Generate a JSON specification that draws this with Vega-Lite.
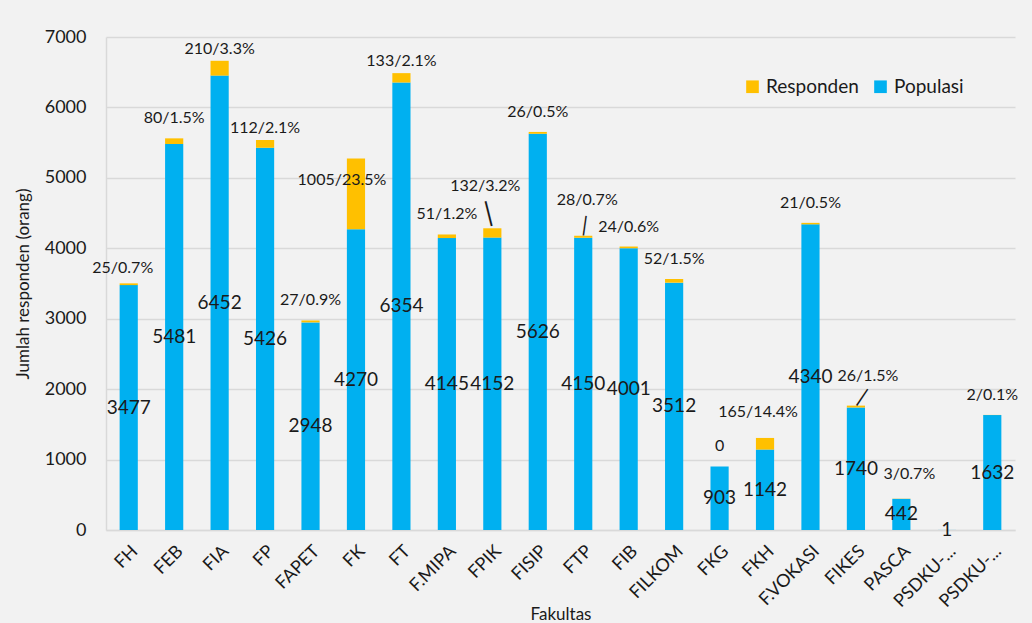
{
  "$schema": "https://vega.github.io/schema/vega-lite/v6.json",
  "autosize": {"type": "none"},
  "width": 909,
  "height": 493,
  "padding": {"left": 106, "top": 37, "right": 17, "bottom": 93},
  "background": "#F2F2F2",
  "config": {
    "font": "Lato",
    "view": {"stroke": null},
    "axis": {"labelColor": "#1a1a1a", "titleColor": "#1a1a1a", "titleFontWeight": "normal", "domainColor": "#D9D9D9", "domainWidth": 1.5, "ticks": false},
    "legend": {"labelColor": "#1a1a1a"},
    "text": {"color": "#1a1a1a"}
  },
  "data": {
    "values": [
      {"Fakultas": "FH", "Populasi": 3477, "Responden": 25, "label": "25/0.7%"},
      {"Fakultas": "FEB", "Populasi": 5481, "Responden": 80, "label": "80/1.5%"},
      {"Fakultas": "FIA", "Populasi": 6452, "Responden": 210, "label": "210/3.3%"},
      {"Fakultas": "FP", "Populasi": 5426, "Responden": 112, "label": "112/2.1%"},
      {"Fakultas": "FAPET", "Populasi": 2948, "Responden": 27, "label": "27/0.9%"},
      {"Fakultas": "FK", "Populasi": 4270, "Responden": 1005, "label": "1005/23.5%"},
      {"Fakultas": "FT", "Populasi": 6354, "Responden": 133, "label": "133/2.1%"},
      {"Fakultas": "F.MIPA", "Populasi": 4145, "Responden": 51, "label": "51/1.2%"},
      {"Fakultas": "FPIK", "Populasi": 4152, "Responden": 132, "label": "132/3.2%"},
      {"Fakultas": "FISIP", "Populasi": 5626, "Responden": 26, "label": "26/0.5%"},
      {"Fakultas": "FTP", "Populasi": 4150, "Responden": 28, "label": "28/0.7%"},
      {"Fakultas": "FIB", "Populasi": 4001, "Responden": 24, "label": "24/0.6%"},
      {"Fakultas": "FILKOM", "Populasi": 3512, "Responden": 52, "label": "52/1.5%"},
      {"Fakultas": "FKG", "Populasi": 903, "Responden": 0, "label": "0"},
      {"Fakultas": "FKH", "Populasi": 1142, "Responden": 165, "label": "165/14.4%"},
      {"Fakultas": "F.VOKASI", "Populasi": 4340, "Responden": 21, "label": "21/0.5%"},
      {"Fakultas": "FIKES", "Populasi": 1740, "Responden": 26, "label": "26/1.5%"},
      {"Fakultas": "PASCA", "Populasi": 442, "Responden": 3, "label": "3/0.7%"},
      {"Fakultas": "PSDKU-1", "Populasi": 1, "Responden": 0, "label": ""},
      {"Fakultas": "PSDKU-2", "Populasi": 1632, "Responden": 2, "label": "2/0.1%"}
    ]
  },
  "encoding": {
    "x": {
      "field": "Fakultas",
      "type": "nominal",
      "sort": null,
      "scale": {"paddingInner": 0.6, "paddingOuter": 0.3},
      "axis": {
        "title": "Fakultas",
        "titleFontSize": 17,
        "titleY": 84,
        "titleBaseline": "middle",
        "labelAngle": -45,
        "labelFontSize": 18,
        "labelPadding": 12,
        "labelExpr": "indexof(datum.label, 'PSDKU') == 0 ? 'PSDKU-...' : datum.label"
      }
    }
  },
  "layer": [
    {
      "transform": [{"fold": ["Populasi", "Responden"], "as": ["Jenis", "Jumlah"]}],
      "mark": {"type": "bar"},
      "encoding": {
        "y": {
          "field": "Jumlah",
          "type": "quantitative",
          "stack": "zero",
          "scale": {"domain": [0, 7000]},
          "axis": {
            "title": "Jumlah responden (orang)",
            "titleFontSize": 17,
            "titlePadding": 12,
            "values": [0, 1000, 2000, 3000, 4000, 5000, 6000, 7000],
            "format": "d",
            "labelFontSize": 18,
            "labelPadding": 20,
            "grid": true,
            "gridColor": "#D9D9D9",
            "gridWidth": 1.5
          }
        },
        "color": {
          "field": "Jenis",
          "type": "nominal",
          "scale": {"domain": ["Responden", "Populasi"], "range": ["#FFC000", "#00B0F0"]},
          "legend": {
            "title": null,
            "orient": "none",
            "legendX": 637,
            "legendY": 40,
            "direction": "horizontal",
            "symbolType": "square",
            "symbolSize": 160,
            "symbolStrokeWidth": 0,
            "labelFontSize": 19,
            "columnPadding": 12
          }
        },
        "order": {"field": "Jenis", "sort": "ascending"}
      }
    },
    {
      "transform": [
        {"fold": ["Populasi", "Responden"], "as": ["Jenis", "Jumlah"]},
        {"stack": "Jumlah", "groupby": ["Fakultas"], "sort": [{"field": "Jenis", "order": "ascending"}], "as": ["y0", "y1"]},
        {"filter": "datum.Jenis == 'Responden' && indexof(['FEB','FAPET','F.MIPA','FISIP','FIB','FILKOM','FKG','F.VOKASI','PSDKU-2'], datum.Fakultas) >= 0"}
      ],
      "mark": {"type": "text", "baseline": "middle", "dy": -20, "fontSize": 16},
      "encoding": {
        "y": {"field": "y1", "type": "quantitative", "scale": {"domain": [0, 7000]}, "axis": null},
        "text": {"field": "label"}
      }
    },
    {
      "transform": [
        {"fold": ["Populasi", "Responden"], "as": ["Jenis", "Jumlah"]},
        {"stack": "Jumlah", "groupby": ["Fakultas"], "sort": [{"field": "Jenis", "order": "ascending"}], "as": ["y0", "y1"]},
        {"filter": "datum.Jenis == 'Responden' && indexof(['FIA','FP','FT'], datum.Fakultas) >= 0"}
      ],
      "mark": {"type": "text", "baseline": "middle", "dy": -12, "fontSize": 16},
      "encoding": {
        "y": {"field": "y1", "type": "quantitative", "scale": {"domain": [0, 7000]}, "axis": null},
        "text": {"field": "label"}
      }
    },
    {
      "transform": [
        {"fold": ["Populasi", "Responden"], "as": ["Jenis", "Jumlah"]},
        {"stack": "Jumlah", "groupby": ["Fakultas"], "sort": [{"field": "Jenis", "order": "ascending"}], "as": ["y0", "y1"]},
        {"filter": "datum.Jenis == 'Responden' && datum.Fakultas == 'FH'"}
      ],
      "mark": {"type": "text", "baseline": "middle", "dy": -15, "dx": -6, "fontSize": 16},
      "encoding": {
        "y": {"field": "y1", "type": "quantitative", "scale": {"domain": [0, 7000]}, "axis": null},
        "text": {"field": "label"}
      }
    },
    {
      "transform": [
        {"fold": ["Populasi", "Responden"], "as": ["Jenis", "Jumlah"]},
        {"stack": "Jumlah", "groupby": ["Fakultas"], "sort": [{"field": "Jenis", "order": "ascending"}], "as": ["y0", "y1"]},
        {"filter": "datum.Jenis == 'Responden' && datum.Fakultas == 'FKH'"}
      ],
      "mark": {"type": "text", "baseline": "middle", "dy": -26, "dx": -7, "fontSize": 16},
      "encoding": {
        "y": {"field": "y1", "type": "quantitative", "scale": {"domain": [0, 7000]}, "axis": null},
        "text": {"field": "label"}
      }
    },
    {
      "transform": [
        {"fold": ["Populasi", "Responden"], "as": ["Jenis", "Jumlah"]},
        {"stack": "Jumlah", "groupby": ["Fakultas"], "sort": [{"field": "Jenis", "order": "ascending"}], "as": ["y0", "y1"]},
        {"filter": "datum.Jenis == 'Responden' && datum.Fakultas == 'PASCA'"}
      ],
      "mark": {"type": "text", "baseline": "middle", "dy": -25, "dx": 8, "fontSize": 16},
      "encoding": {
        "y": {"field": "y1", "type": "quantitative", "scale": {"domain": [0, 7000]}, "axis": null},
        "text": {"field": "label"}
      }
    },
    {
      "transform": [
        {"fold": ["Populasi", "Responden"], "as": ["Jenis", "Jumlah"]},
        {"stack": "Jumlah", "groupby": ["Fakultas"], "sort": [{"field": "Jenis", "order": "ascending"}], "as": ["y0", "y1"]},
        {"filter": "datum.Jenis == 'Responden' && datum.Fakultas == 'FK'"}
      ],
      "mark": {"type": "text", "baseline": "middle", "dy": 22, "dx": -14, "fontSize": 16},
      "encoding": {
        "y": {"field": "y1", "type": "quantitative", "scale": {"domain": [0, 7000]}, "axis": null},
        "text": {"field": "label"}
      }
    },
    {
      "transform": [
        {"fold": ["Populasi", "Responden"], "as": ["Jenis", "Jumlah"]},
        {"stack": "Jumlah", "groupby": ["Fakultas"], "sort": [{"field": "Jenis", "order": "ascending"}], "as": ["y0", "y1"]},
        {"filter": "datum.Jenis == 'Responden' && datum.Fakultas == 'FPIK'"}
      ],
      "mark": {"type": "text", "baseline": "middle", "dy": -42, "dx": -7, "fontSize": 16},
      "encoding": {
        "y": {"field": "y1", "type": "quantitative", "scale": {"domain": [0, 7000]}, "axis": null},
        "text": {"field": "label"}
      }
    },
    {
      "transform": [
        {"fold": ["Populasi", "Responden"], "as": ["Jenis", "Jumlah"]},
        {"stack": "Jumlah", "groupby": ["Fakultas"], "sort": [{"field": "Jenis", "order": "ascending"}], "as": ["y0", "y1"]},
        {"filter": "datum.Jenis == 'Responden' && datum.Fakultas == 'FTP'"}
      ],
      "mark": {"type": "text", "baseline": "middle", "dy": -36, "dx": 4, "fontSize": 16},
      "encoding": {
        "y": {"field": "y1", "type": "quantitative", "scale": {"domain": [0, 7000]}, "axis": null},
        "text": {"field": "label"}
      }
    },
    {
      "transform": [
        {"fold": ["Populasi", "Responden"], "as": ["Jenis", "Jumlah"]},
        {"stack": "Jumlah", "groupby": ["Fakultas"], "sort": [{"field": "Jenis", "order": "ascending"}], "as": ["y0", "y1"]},
        {"filter": "datum.Jenis == 'Responden' && datum.Fakultas == 'FIKES'"}
      ],
      "mark": {"type": "text", "baseline": "middle", "dy": -30, "dx": 12, "fontSize": 16},
      "encoding": {
        "y": {"field": "y1", "type": "quantitative", "scale": {"domain": [0, 7000]}, "axis": null},
        "text": {"field": "label"}
      }
    },
    {
      "transform": [
        {"fold": ["Populasi", "Responden"], "as": ["Jenis", "Jumlah"]},
        {"stack": "Jumlah", "groupby": ["Fakultas"], "sort": [{"field": "Jenis", "order": "ascending"}], "as": ["y0", "y1"]},
        {"filter": "datum.Jenis == 'Responden' && datum.Fakultas == 'FPIK'"}
      ],
      "mark": {"type": "text", "baseline": "middle", "text": "|", "fontSize": 27, "angle": -14, "dy": -15},
      "encoding": {
        "y": {"field": "y1", "type": "quantitative", "scale": {"domain": [0, 7000]}, "axis": null}
      }
    },
    {
      "transform": [
        {"fold": ["Populasi", "Responden"], "as": ["Jenis", "Jumlah"]},
        {"stack": "Jumlah", "groupby": ["Fakultas"], "sort": [{"field": "Jenis", "order": "ascending"}], "as": ["y0", "y1"]},
        {"filter": "datum.Jenis == 'Responden' && datum.Fakultas == 'FTP'"}
      ],
      "mark": {"type": "text", "baseline": "middle", "text": "|", "fontSize": 21, "angle": 8, "dy": -10},
      "encoding": {
        "y": {"field": "y1", "type": "quantitative", "scale": {"domain": [0, 7000]}, "axis": null}
      }
    },
    {
      "transform": [
        {"fold": ["Populasi", "Responden"], "as": ["Jenis", "Jumlah"]},
        {"stack": "Jumlah", "groupby": ["Fakultas"], "sort": [{"field": "Jenis", "order": "ascending"}], "as": ["y0", "y1"]},
        {"filter": "datum.Jenis == 'Responden' && datum.Fakultas == 'FIKES'"}
      ],
      "mark": {"type": "text", "baseline": "middle", "text": "|", "fontSize": 21, "angle": 34, "dy": -10, "dx": 0.5},
      "encoding": {
        "y": {"field": "y1", "type": "quantitative", "scale": {"domain": [0, 7000]}, "axis": null}
      }
    },
    {
      "mark": {"type": "text", "baseline": "middle", "fontSize": 19},
      "encoding": {
        "y": {"field": "Populasi", "type": "quantitative", "scale": {"domain": [0, 14000]}, "axis": null},
        "text": {"field": "Populasi", "type": "quantitative"}
      }
    }
  ],
  "resolve": {"scale": {"y": "independent"}}
}
